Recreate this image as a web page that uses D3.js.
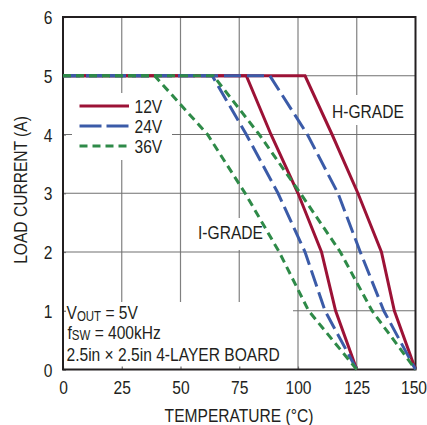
<!DOCTYPE html>
<html>
<head>
<meta charset="utf-8">
<script src="https://cdn.jsdelivr.net/npm/d3@7"></script>
<style>
  html, body { margin: 0; padding: 0; background: #fff; }
  svg text { font-family: 'Liberation Sans', Arial, sans-serif; fill: #231f20; }
</style>
</head>
<body>
<svg id="chart" width="427" height="425"></svg>
<script>
// Derating curves: load current (A) vs ambient temperature (°C)
const currentSteps = [5, 5, 4, 3, 2, 1, 0];

const temp12I = [0, 78, 88.5, 100, 110, 116, 125];
const temp24I = [0, 63.5, 78, 91.5, 103, 111.5, 125];
const temp36I = [0, 39, 61.5, 77.5, 92, 104.5, 125];

const temp12H = [0, 103, 114.5, 125.5, 135.5, 141, 150];
const temp24H = [0, 88, 104, 117, 126.5, 136.5, 150];
const temp36H = [0, 64, 83.5, 101, 118, 131.5, 150];

const seriesNames = ["12V", "24V", "36V"];
const xTicks = [0, 25, 50, 75, 100, 125, 150];
const yTicks = [0, 1, 2, 3, 4, 5, 6];

const colors = { "12V": "#9c1236", "24V": "#3b5ba8", "36V": "#2e8a48" };
const dashes = { "12V": null, "24V": "17,6", "36V": "8,5" };

const series = [
  { name: "12V", grade: "I", temps: temp12I },
  { name: "12V", grade: "H", temps: temp12H },
  { name: "24V", grade: "I", temps: temp24I },
  { name: "24V", grade: "H", temps: temp24H },
  { name: "36V", grade: "I", temps: temp36I },
  { name: "36V", grade: "H", temps: temp36H }
];

// Condensed lettering: squeeze single-run text to 82% of its natural width
const NARROW = 0.82;
function narrow(sel) {
  sel.each(function () {
    const w = this.getComputedTextLength();
    if (w > 0) {
      this.setAttribute("textLength", (w * NARROW).toFixed(2));
      this.setAttribute("lengthAdjust", "spacingAndGlyphs");
    }
  });
}
// Text with subscripts is condensed as a whole, anchored at its start x
function narrowRich(sel, x0) {
  sel.attr("transform", `translate(${(x0 * (1 - NARROW)).toFixed(2)},0) scale(${NARROW},1)`);
}

const svg = d3.select("#chart");
const x = d3.scaleLinear().domain([0, 150]).range([63, 415.5]);
const y = d3.scaleLinear().domain([0, 6]).range([369.5, 17]);

// grid
const grid = svg.append("g");
grid.selectAll("line.v").data(xTicks.slice(1, -1)).join("line")
  .attr("x1", d => x(d)).attr("x2", d => x(d))
  .attr("y1", y(0)).attr("y2", y(6))
  .attr("stroke", "#808080").attr("stroke-width", 1.2);
grid.selectAll("line.h").data(yTicks.slice(1, -1)).join("line")
  .attr("y1", d => y(d)).attr("y2", d => y(d))
  .attr("x1", x(0)).attr("x2", x(150))
  .attr("stroke", "#707070").attr("stroke-width", 1.2);

// white backing behind labels
const boxes = [
  [72, 93, 100, 67],     // legend
  [328, 95, 80, 30],     // H-GRADE
  [193, 218, 73, 32],    // I-GRADE
  [63, 302, 230, 67.5]   // conditions
];
svg.append("g").selectAll("rect").data(boxes).join("rect")
  .attr("x", d => d[0]).attr("y", d => d[1])
  .attr("width", d => d[2]).attr("height", d => d[3])
  .attr("fill", "#fff");

// axes
const xAxis = d3.axisBottom(x).tickValues(xTicks).tickFormat(d3.format("d"))
  .tickSizeInner(-3).tickSizeOuter(0);
const yAxis = d3.axisLeft(y).tickValues(yTicks).tickFormat(d3.format("d"))
  .tickSizeInner(-3).tickSizeOuter(0);
const gx = svg.append("g").attr("transform", `translate(0,${y(0)})`).call(xAxis);
const gy = svg.append("g").attr("transform", `translate(${x(0)},0)`).call(yAxis);
[gx, gy].forEach(g => {
  g.select(".domain").remove();
  g.selectAll(".tick line").attr("stroke", "#707070").attr("stroke-width", 1.2);
  g.selectAll(".tick text").attr("font-size", 19).attr("fill", "#231f20")
    .style("font-family", "'Liberation Sans', Arial, sans-serif");
});
gx.selectAll(".tick text").attr("dy", "0.71em").attr("y", 11.5)
  .attr("dx", d => d === 150 ? -2 : 0);
gy.selectAll(".tick text").attr("dy", "0.35em").attr("x", -10.5);

// frame
svg.append("rect")
  .attr("x", x(0)).attr("y", y(6))
  .attr("width", x(150) - x(0)).attr("height", y(0) - y(6))
  .attr("fill", "none").attr("stroke", "#231f20").attr("stroke-width", 2);

// curves
const line = d3.line().x(d => x(d[0])).y(d => y(d[1]));
svg.append("g").selectAll("path").data(series).join("path")
  .attr("d", s => line(s.temps.map((t, i) => [t, currentSteps[i]])))
  .attr("fill", "none")
  .attr("stroke", s => colors[s.name])
  .attr("stroke-width", 3)
  .attr("stroke-dasharray", s => dashes[s.name]);

// legend
const legend = svg.append("g");
seriesNames.forEach((name, i) => {
  const ly = 106 + i * 20;
  legend.append("line")
    .attr("x1", 79.5).attr("x2", 129).attr("y1", ly).attr("y2", ly)
    .attr("stroke", colors[name]).attr("stroke-width", 3)
    .attr("stroke-dasharray", name === "24V" ? "22,5" : dashes[name]);
  legend.append("text")
    .attr("class", "plain")
    .attr("x", 134.5).attr("y", ly).attr("dy", "0.36em")
    .attr("font-size", 19).text(name);
});

// grade labels
svg.append("text").attr("class", "plain").attr("x", 332).attr("y", 117.5).attr("font-size", 19).text("H-GRADE");
svg.append("text").attr("class", "plain").attr("x", 198).attr("y", 238.5).attr("font-size", 19).text("I-GRADE");

// operating conditions
const cond = svg.append("g").attr("font-size", 19);
const t1 = cond.append("text").attr("x", 66.5).attr("y", 319.5);
t1.append("tspan").text("V");
t1.append("tspan").attr("font-size", 14).attr("dy", 1.5).text("OUT");
t1.append("tspan").attr("dy", -1.5).text(" = 5V");
narrowRich(t1, 66.5);
const t2 = cond.append("text").attr("x", 67.5).attr("y", 339);
t2.append("tspan").text("f");
t2.append("tspan").attr("font-size", 14).attr("dy", 1.5).text("SW");
t2.append("tspan").attr("dy", -1.5).text(" = 400kHz");
narrowRich(t2, 67.5);
cond.append("text").attr("class", "plain").attr("x", 66.5).attr("y", 361).text("2.5in × 2.5in 4-LAYER BOARD");

// axis titles
svg.append("text").attr("class", "plain")
  .attr("transform", `translate(26.5,190) rotate(-90)`)
  .attr("text-anchor", "middle").attr("font-size", 19)
  .text("LOAD CURRENT (A)");
svg.append("text").attr("class", "plain")
  .attr("x", 239).attr("y", 421.5)
  .attr("text-anchor", "middle").attr("font-size", 19)
  .text("TEMPERATURE (°C)");

narrow(svg.selectAll("text.plain, .tick text"));
</script>
</body>
</html>
